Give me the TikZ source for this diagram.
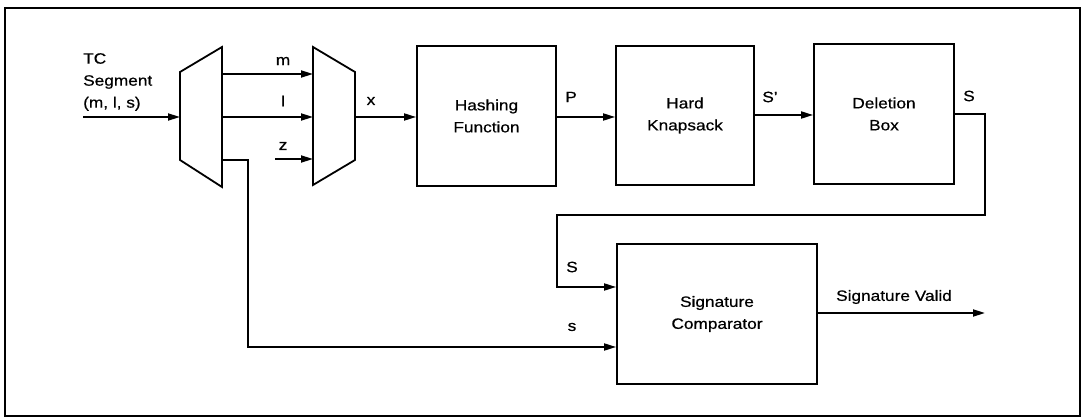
\documentclass[tikz,border=0pt]{standalone}
\usepackage{fontspec}
\setmainfont{Liberation Sans}[FakeStretch=1.15,FakeBold=0.6]
\usetikzlibrary{arrows.meta}
\begin{document}
\begin{tikzpicture}[x=1pt,y=-1pt,
  every node/.style={font=\fontsize{15}{22}\selectfont, inner sep=0pt},
  blk/.style={draw, line width=1.8pt, align=center},
  wire/.style={line width=1.8pt},
  arr/.style={wire, -{Triangle[length=12pt,width=7pt]}},
  lbl/.style={anchor=center}]
\useasboundingbox (0,0) rectangle (1085,419);
\draw[line width=1.3pt] (5,8) rectangle (1080,416);
% demux
\coordinate (d1) at (180,72); \coordinate (d2) at (222,47);
\coordinate (d3) at (222,187); \coordinate (d4) at (180,160);
\draw[line width=1.8pt] (d1) -- (d2) -- (d3) -- (d4) -- cycle;
% mux
\coordinate (u1) at (313,47); \coordinate (u2) at (355,72);
\coordinate (u3) at (355,160); \coordinate (u4) at (313,185);
\draw[line width=1.8pt] (u1) -- (u2) -- (u3) -- (u4) -- cycle;
% blocks
\node[blk, minimum width=139pt, minimum height=140pt] (hash) at (486.5,116) {Hashing\\Function};
\node[blk, minimum width=138pt, minimum height=139pt] (knap) at (685,115.5) {Hard\\Knapsack};
\node[blk, minimum width=140pt, minimum height=140pt] (del) at (884,114) {Deletion\\Box};
\node[blk, minimum width=200pt, minimum height=140pt] (comp) at (717,314) {Signature\\Comparator};
% input
\coordinate (in) at (83,117);
\node[anchor=north west, align=left] (tc) at (83,53) {TC\\Segment\\(m, l, s)};
\draw[arr] (in) -- (180,117);
% demux to mux
\draw[arr] (222,74) -- (313,74);
\node (lm) at (283,61) {m};
\draw[arr] (222,117) -- (313,117);
\node (ll) at (283,101) {l};
\coordinate (zin) at (275,159);
\draw[arr] (zin) -- (313,159);
\node (lz) at (283,146) {z};
% mux to hash
\draw[arr] (355,117) -- (hash.west |- 0,117);
\node (lx) at (371,101) {x};
\draw[arr] (hash.east |- 0,117) -- (knap.west |- 0,117);
\node (lp) at (571,97) {P};
\draw[arr] (knap.east |- 0,115) -- (del.west |- 0,115);
\node (ls1) at (770,97) {S'};
% deletion to comparator
\draw[arr] (del.east |- 0,114) -- (985,114) -- (985,215) -- (557,215) -- (557,287) -- (comp.west |- 0,287);
\node (ls2) at (969,96) {S};
\node (ls3) at (572,267) {S};
% s path
\draw[arr] (222,160) -- (248,160) -- (248,347) -- (comp.west |- 0,347);
\node (ls4) at (572,327) {s};
% output
\coordinate (out) at (985,313);
\draw[arr] (comp.east |- 0,313) -- (out);
\node (lv) at (894,297) {Signature Valid};
\end{tikzpicture}
\end{document}
